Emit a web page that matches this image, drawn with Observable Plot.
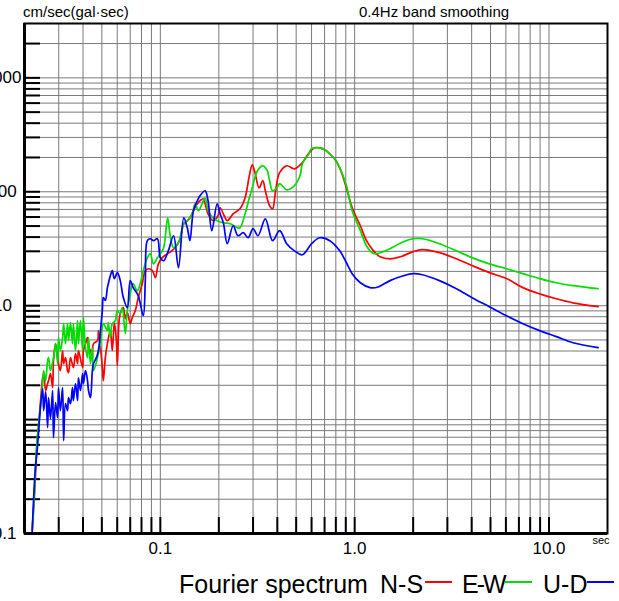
<!DOCTYPE html>
<html><head><meta charset="utf-8">
<script src="https://cdn.jsdelivr.net/npm/d3@7"></script>
<script src="https://cdn.jsdelivr.net/npm/@observablehq/plot@0.6"></script>
<style>
html,body{margin:0;padding:0;background:#fff;}
body{width:619px;height:601px;overflow:hidden;font-family:"Liberation Sans",Arial,Helvetica,sans-serif;color:#000;}
#header{position:relative;height:21px;}
#header span{position:absolute;top:4px;font-size:15px;line-height:1;white-space:nowrap;}
#chart svg{display:block;}
#legend{position:relative;height:41px;}
#legend .t{position:absolute;top:12px;font-size:25px;line-height:1;white-space:nowrap;}
#legend .l{position:absolute;top:21px;height:2px;width:27px;}
</style></head><body>
<div id="header"><span style="left:23px">cm/sec(gal·sec)</span><span style="left:359px">0.4Hz band smoothing</span></div>
<div id="chart"></div>
<div id="legend">
  <span class="t" style="left:179px">Fourier spectrum</span>
  <span class="t" style="left:380px">N-S</span><span class="l" id="l0" style="left:425px"></span>
  <span class="t" style="left:462px;letter-spacing:-2px">E-W</span><span class="l" id="l1" style="left:505px"></span>
  <span class="t" style="left:543px">U-D</span><span class="l" id="l2" style="left:587px"></span>
</div>
<script>
// ---- data ----
const seriesNames = ["N-S", "E-W", "U-D"];
const seriesColors = ["#ff0000", "#00dd00", "#0000ff"];

const nsPeriod = [0.0219,0.0227,0.0233,0.0236,0.0242,0.0248,0.0251,0.0257,0.0263,0.0266,0.0272,0.0279,0.0282,0.0289,0.0296,0.0299,0.0306,0.0314,0.0318,0.0325,0.0333,0.0337,0.0345,0.0357,0.0366,0.0375,0.0379,0.0398,0.0402,0.0412,0.0422,0.0427,0.0437,0.0447,0.0453,0.0475,0.0480,0.0492,0.0503,0.0509,0.0521,0.0534,0.0553,0.0566,0.0580,0.0594,0.0601,0.0615,0.0629,0.0645,0.0660,0.0676,0.0700,0.0717,0.0743,0.0770,0.0807,0.0837,0.0868,0.0910,0.0943,0.0977,0.102,0.109,0.115,0.123,0.127,0.132,0.138,0.142,0.148,0.155,0.160,0.166,0.170,0.176,0.187,0.198,0.203,0.213,0.221,0.237,0.257,0.273,0.287,0.297,0.307,0.322,0.337,0.347,0.365,0.378,0.392,0.411,0.447,0.490,0.538,0.578,0.622,0.660,0.706,0.745,0.794,0.838,0.907,0.971,1.07,1.15,1.25,1.35,1.52,1.72,2.00,2.23,2.73,3.34,4.04,4.93,6.04,7.34,8.95,10.9,13.3,17.9];
const nsAmp = [0.106,0.292,0.695,0.851,1.47,2.33,2.53,1.80,2.07,2.20,2.53,1.91,3.29,4.64,3.64,3.10,2.69,4.03,3.10,3.50,2.69,2.58,3.50,2.86,3.79,3.10,4.03,2.86,4.03,4.64,5.24,4.28,4.03,3.50,4.64,4.93,6.04,4.28,2.86,2.20,3.50,4.64,6.04,4.03,7.09,4.93,2.98,7.69,9.04,9.60,7.69,8.68,6.95,7.85,9.04,11.8,15.6,20.3,21.1,20.3,17.6,23.3,26.3,28.6,30.4,35.0,39.5,52.4,55.7,59.1,68.1,78.5,83.4,86.8,78.5,64.1,55.7,61.6,72.4,61.6,55.7,64.1,70.9,88.6,138,172,147,108,125,102,75.4,70.9,102,147,169,159,180,215,243,243,233,215,191,162,108,72.4,50.3,37.2,30.3,26.9,25.8,26.9,29.8,31.0,29.2,25.8,22.4,19.5,17.3,14.4,12.7,11.5,10.6,9.80];

const ewPeriod = [0.0219,0.0225,0.0230,0.0236,0.0242,0.0248,0.0251,0.0257,0.0263,0.0266,0.0272,0.0282,0.0289,0.0296,0.0299,0.0306,0.0314,0.0318,0.0325,0.0333,0.0337,0.0345,0.0353,0.0357,0.0366,0.0375,0.0379,0.0388,0.0398,0.0402,0.0412,0.0422,0.0427,0.0437,0.0447,0.0453,0.0475,0.0492,0.0509,0.0534,0.0540,0.0553,0.0566,0.0587,0.0601,0.0622,0.0637,0.0660,0.0676,0.0700,0.0725,0.0761,0.0788,0.0817,0.0857,0.0888,0.0921,0.0966,0.100,0.104,0.109,0.112,0.117,0.124,0.132,0.138,0.146,0.151,0.157,0.164,0.170,0.176,0.187,0.196,0.211,0.229,0.249,0.257,0.273,0.287,0.297,0.316,0.337,0.355,0.365,0.378,0.397,0.411,0.447,0.490,0.525,0.538,0.577,0.600,0.634,0.660,0.706,0.745,0.794,0.838,0.907,0.971,1.07,1.15,1.23,1.30,1.40,1.52,1.78,2.00,2.23,2.73,3.34,4.04,4.93,6.04,7.34,8.95,10.9,13.3,17.9];
const ewAmp = [0.106,0.215,0.535,0.886,1.33,2.07,2.69,2.20,3.29,3.50,2.69,3.50,4.64,3.10,5.24,4.03,5.24,6.95,4.64,6.95,4.93,7.09,4.64,6.95,4.03,7.39,4.64,7.39,4.03,7.85,4.28,3.50,5.24,3.10,4.28,2.69,3.50,4.64,6.95,6.04,7.09,5.24,6.95,7.39,9.04,8.51,9.60,5.68,9.04,12.7,15.6,13.5,15.6,20.3,26.3,28.6,23.3,26.3,28.6,32.3,59.1,42.8,32.3,35.7,52.4,55.7,64.1,78.5,68.1,78.5,88.6,68.1,59.1,55.7,53.5,52.4,48.3,48.3,64.1,88.6,108,153,169,153,125,102,108,118,104,113,141,176,211,239,243,243,233,215,191,162,113,68.1,45.5,33.6,29.2,28.6,29.8,31.6,36.4,38.7,38.7,35.0,30.3,26.3,23.3,21.1,19.1,17.3,15.9,15.0,14.1];

const udPeriod = [0.0219,0.0222,0.0227,0.0233,0.0236,0.0242,0.0248,0.0251,0.0257,0.0263,0.0266,0.0272,0.0279,0.0282,0.0289,0.0296,0.0299,0.0306,0.0314,0.0318,0.0325,0.0333,0.0337,0.0345,0.0353,0.0357,0.0366,0.0375,0.0379,0.0388,0.0398,0.0402,0.0412,0.0422,0.0427,0.0437,0.0447,0.0453,0.0469,0.0480,0.0492,0.0503,0.0509,0.0521,0.0534,0.0540,0.0553,0.0566,0.0580,0.0601,0.0622,0.0645,0.0676,0.0700,0.0725,0.0770,0.0817,0.0837,0.0857,0.0888,0.0921,0.0966,0.100,0.104,0.110,0.117,0.124,0.132,0.138,0.142,0.148,0.155,0.160,0.170,0.176,0.184,0.196,0.203,0.211,0.221,0.237,0.251,0.267,0.283,0.300,0.318,0.347,0.378,0.411,0.447,0.490,0.538,0.600,0.660,0.745,0.838,0.907,0.971,1.07,1.20,1.32,1.52,1.78,2.00,2.23,2.73,3.34,4.04,4.93,6.04,7.34,8.95,10.9,13.3,17.9];
const udAmp = [0.100,0.176,0.357,0.568,0.754,1.33,1.87,1.20,1.76,0.851,1.56,1.02,1.80,0.695,1.41,1.04,1.91,1.20,1.91,0.654,1.38,1.20,1.56,1.38,1.91,1.47,2.07,1.47,2.33,1.80,2.53,2.07,2.69,2.20,1.80,1.56,2.69,3.10,3.50,4.03,6.04,9.04,11.8,11.1,14.4,15.6,18.3,20.3,17.3,19.5,16.6,11.8,9.60,16.6,14.4,12.2,8.17,16.6,37.2,38.7,37.2,38.7,26.3,24.8,30.4,41.1,21.5,59.1,47.4,37.2,68.1,83.4,92.2,102,83.4,45.5,78.5,64.1,53.5,35.0,50.3,41.1,43.7,39.5,47.4,41.1,57.9,37.2,45.5,35.0,30.3,28.0,35.0,39.5,37.2,30.3,23.8,19.1,15.9,14.4,14.6,16.6,18.3,19.1,18.7,16.6,14.1,11.7,9.80,8.17,6.95,6.04,5.35,4.73,4.28];

const xDomain = [0.02, 20];
const yDomain = [0.1, 3000];
const xGrid = [0.03,0.04,0.05,0.06,0.07,0.08,0.09,0.1,0.2,0.3,0.4,0.5,0.6,0.7,0.8,0.9,1,2,3,4,5,6,7,8,9,10];
const yGrid = [0.2,0.3,0.4,0.5,0.6,0.7,0.8,0.9,1,2,3,4,5,6,7,8,9,10,20,30,40,50,60,70,80,90,100,200,300,400,500,600,700,800,900,1000,2000];
const xLabelValues = [0.1, 1, 10];
const xLabelTexts = ["0.1", "1.0", "10.0"];
const yLabelValues = [1000, 100, 10];
const yLabelTexts = ["1000", "100", "10"];
const yMinLabelValue = [0.1];
const yMinLabelText = ["0.1"];

const toRows = (p, a) => p.map((d, i) => ({period: d, amp: a[i]}));
const ns = toRows(nsPeriod, nsAmp);
const ew = toRows(ewPeriod, ewAmp);
const ud = toRows(udPeriod, udAmp);

const W = 619, H = 539, mL = 24, mR = 12, mT = 2, mB = 27;
const frameW = W - mL - mR, frameH = H - mT - mB;
const tickLen = 16;

const chart = Plot.plot({
  width: W, height: H,
  marginLeft: mL, marginRight: mR, marginTop: mT, marginBottom: mB,
  style: {fontFamily: '"Liberation Sans", Arial, sans-serif', background: "white", color: "black"},
  x: {type: "log", domain: xDomain, axis: null},
  y: {type: "log", domain: yDomain, axis: null},
  marks: [
    Plot.ruleX(xGrid, {x: d => d, stroke: "#7a7a7a", strokeWidth: 1}),
    Plot.ruleY(yGrid, {y: d => d, stroke: "#7a7a7a", strokeWidth: 1}),
    Plot.tickX(xGrid, {x: d => d, insetTop: frameH - tickLen, stroke: "black", strokeWidth: 2}),
    Plot.tickY(yGrid, {y: d => d, insetRight: frameW - tickLen, stroke: "black", strokeWidth: 2}),
    Plot.line(ns, {x: "period", y: "amp", stroke: seriesColors[0], strokeWidth: 1.7, curve: "catmull-rom"}),
    Plot.line(ew, {x: "period", y: "amp", stroke: seriesColors[1], strokeWidth: 1.7, curve: "catmull-rom"}),
    Plot.line(ud, {x: "period", y: "amp", stroke: seriesColors[2], strokeWidth: 1.7, curve: "catmull-rom"}),
    Plot.frame({stroke: "black", strokeWidth: 2}),
    Plot.ruleX([xDomain[0]], {x: d => d, stroke: "black", strokeWidth: 3}),
    Plot.ruleY([yDomain[0]], {y: d => d, stroke: "black", strokeWidth: 3}),
    Plot.text(xLabelValues, {x: d => d, text: (d, i) => xLabelTexts[i], frameAnchor: "bottom", dy: 15, lineAnchor: "middle", fontSize: 17, fill: "black"}),
    Plot.text(yLabelValues, {y: d => d, text: (d, i) => yLabelTexts[i], frameAnchor: "left", dx: -22, textAnchor: "middle", lineAnchor: "middle", fontSize: 17, fill: "black"}),
    Plot.text(yMinLabelValue, {y: d => d, text: (d, i) => yMinLabelText[i], frameAnchor: "left", dx: -8, textAnchor: "end", lineAnchor: "middle", fontSize: 17, fill: "black"}),
    Plot.text(["sec"], {frameAnchor: "bottom-right", textAnchor: "end", dx: 2, dy: 10, fontSize: 11, fill: "black"})
  ]
});
document.getElementById("chart").appendChild(chart);
seriesColors.forEach((c, i) => { document.getElementById("l" + i).style.background = c; });
</script>
</body></html>
